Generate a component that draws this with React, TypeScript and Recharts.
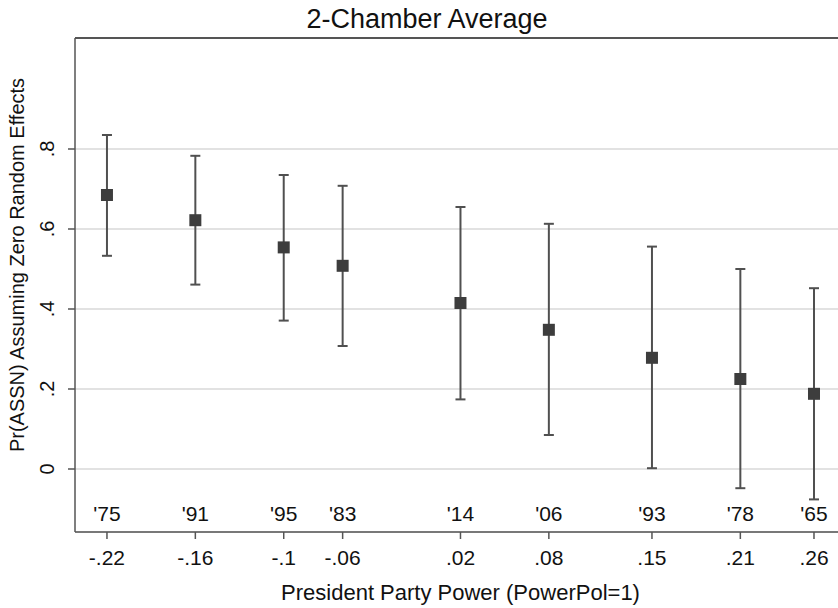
import React from 'react';
import { ComposedChart, Scatter, ErrorBar, XAxis, YAxis, CartesianGrid, Label, ReferenceLine } from 'recharts';

const years = ["'75", "'91", "'95", "'83", "'14", "'06", "'93", "'78", "'65"];
const power = [-0.22, -0.16, -0.1, -0.06, 0.02, 0.08, 0.15, 0.21, 0.26];
const estimate = [0.685, 0.622, 0.554, 0.508, 0.415, 0.348, 0.278, 0.225, 0.188];
const upper = [0.835, 0.783, 0.735, 0.708, 0.655, 0.613, 0.556, 0.5, 0.452];
const lower = [0.533, 0.461, 0.371, 0.3075, 0.174, 0.085, 0.002, -0.048, -0.076];

const xTickLabels = ['-.22', '-.16', '-.1', '-.06', '.02', '.08', '.15', '.21', '.26'];
const yTicks = [0, 0.2, 0.4, 0.6, 0.8];
const yTickLabels = ['0', '.2', '.4', '.6', '.8'];

const xDomain = [-0.2417, 0.2763];
const yDomain = [-0.1575, 1.0775];

const FONT = '"Liberation Sans", Arial, sans-serif';
const AXIS = '#555555';

const data = power.map((p, i) => ({
  x: p,
  y: estimate[i],
  err: [estimate[i] - lower[i], upper[i] - estimate[i]],
}));

const XTick = (props: any) => {
  const { x, y, payload } = props;
  const i = power.indexOf(payload.value);
  return (
    <g>
      <text x={x} y={y - 20} textAnchor="middle" fontSize={21} fontFamily={FONT} fill="#111">
        {years[i]}
      </text>
      <text x={x} y={y + 24} textAnchor="middle" fontSize={21} fontFamily={FONT} fill="#111">
        {xTickLabels[i]}
      </text>
    </g>
  );
};

const YTick = (props: any) => {
  const { x, y, payload } = props;
  const i = yTicks.indexOf(payload.value);
  const bx = x - 12;
  return (
    <text
      x={bx}
      y={y}
      textAnchor="middle"
      fontSize={20}
      fontFamily={FONT}
      fill="#111"
      transform={`rotate(-90, ${bx}, ${y})`}
    >
      {yTickLabels[i]}
    </text>
  );
};

const Square = (props: any) => {
  const { cx, cy } = props;
  return <rect x={cx - 6} y={cy - 6} width={12} height={12} fill="#3d3d3d" />;
};

export default function App() {
  return (
    <div style={{ position: 'absolute', left: 0, top: 0, width: 838, height: 608, background: '#fff' }}>
      <ComposedChart width={838} height={608} data={data} margin={{ top: 38, right: 0, bottom: 0, left: 0 }}>
        <CartesianGrid vertical={false} stroke="#d9d9d9" strokeWidth={1.5} />
        <XAxis
          dataKey="x"
          type="number"
          domain={xDomain}
          allowDataOverflow
          ticks={power}
          height={76}
          tickSize={7}
          axisLine={{ stroke: AXIS, strokeWidth: 1.5 }}
          tickLine={{ stroke: AXIS, strokeWidth: 1.5 }}
          tick={<XTick />}
          interval={0}
        >
          <Label
            position="insideBottom"
            offset={8}
            dx={4}
            value="President Party Power (PowerPol=1)"
            style={{ fontSize: 22, fontFamily: FONT, fill: '#111' }}
          />
        </XAxis>
        <YAxis
          dataKey="y"
          type="number"
          domain={yDomain}
          allowDataOverflow
          ticks={yTicks}
          width={75}
          tickSize={7}
          axisLine={{ stroke: AXIS, strokeWidth: 1.5 }}
          tickLine={{ stroke: AXIS, strokeWidth: 1.5 }}
          tick={<YTick />}
          interval={0}
        >
          <Label
            content={() => (
              <g>
                <text x={427} y={28} textAnchor="middle" fontSize={27} fontFamily={FONT} fill="#111">
                  2-Chamber Average
                </text>
                <text
                  x={24}
                  y={265}
                  textAnchor="middle"
                  fontSize={20}
                  fontFamily={FONT}
                  fill="#111"
                  transform="rotate(-90, 24, 265)"
                >
                  Pr(ASSN) Assuming Zero Random Effects
                </text>
              </g>
            )}
          />
        </YAxis>
        <ReferenceLine y={yDomain[1]} stroke={AXIS} strokeWidth={2} ifOverflow="visible" />
        <Scatter dataKey="y" shape={<Square />} isAnimationActive={false}>
          <ErrorBar dataKey="err" direction="y" width={5} stroke="#505050" strokeWidth={2} isAnimationActive={false} />
        </Scatter>
      </ComposedChart>
    </div>
  );
}
